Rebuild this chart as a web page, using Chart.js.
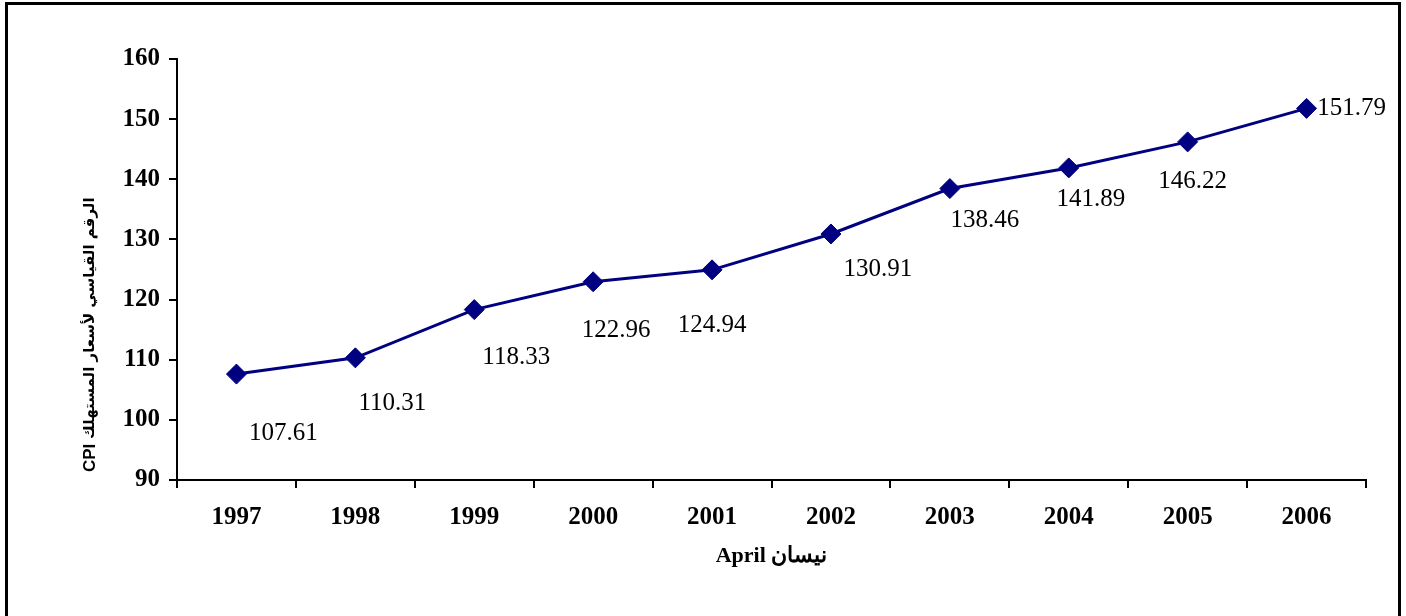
<!DOCTYPE html>
<html lang="ar">
<head>
    <meta charset="UTF-8">
    <title>CPI April 1997-2006</title>
    <script src="https://cdn.jsdelivr.net/npm/chart.js"></script>
    <style>
        html, body {
            margin: 0;
            padding: 0;
            background: #fff;
            overflow: hidden;
        }
        .wrap {
            position: relative;
            width: 1406px;
            height: 616px;
        }
        .frame {
            position: absolute;
            left: 5px;
            top: 2px;
            width: 1396px;
            height: 700px;
            border: 3px solid #000;
            box-sizing: border-box;
            pointer-events: none;
        }
    </style>
</head>
<body>
    <div class="wrap">
        <canvas id="cpiChart" width="1406" height="616"></canvas>
        <div class="frame"></div>
    </div>

    <script>
        const years = ['1997', '1998', '1999', '2000', '2001', '2002', '2003', '2004', '2005', '2006'];
        const cpiValues = [107.61, 110.31, 118.33, 122.96, 124.94, 130.91, 138.46, 141.89, 146.22, 151.79];
        const yTitleLatin = 'CPI';
        const yTitleArabic = 'الرقم القياسي لأسعار المستهلك';
        const xTitle = 'April نيسان';

        // where each value label sits relative to its point (px)
        const labelOffsets = [[47, 59], [37, 46], [42, 48], [23, 49], [0, 56],
                              [47, 35], [35, 32], [22, 32], [5, 40], [45, 0]];

        const valueLabels = {
            id: 'valueLabels',
            afterDatasetsDraw(chart) {
                const ctx = chart.ctx;
                const pts = chart.getDatasetMeta(0).data;
                ctx.save();
                ctx.font = '25px "Liberation Serif", serif';
                ctx.fillStyle = '#000';
                ctx.textAlign = 'center';
                ctx.textBaseline = 'middle';
                pts.forEach((pt, i) => {
                    ctx.fillText(cpiValues[i].toFixed(2), pt.x + labelOffsets[i][0], pt.y + labelOffsets[i][1]);
                });
                ctx.restore();
            }
        };

        // vertical axis title: latin part and arabic part use different fonts
        const sideTitle = {
            id: 'sideTitle',
            afterDraw(chart) {
                const ctx = chart.ctx;
                ctx.save();
                ctx.translate(90, 472);
                ctx.rotate(-Math.PI / 2);
                ctx.fillStyle = '#000';
                ctx.textAlign = 'left';
                ctx.textBaseline = 'middle';
                ctx.font = 'bold 17px "Liberation Sans", sans-serif';
                ctx.fillText(yTitleLatin, 0, 0);
                const w = ctx.measureText(yTitleLatin + ' ').width;
                ctx.font = 'bold 15px "DejaVu Sans", sans-serif';
                ctx.fillText(yTitleArabic, w, 0);
                ctx.restore();
            }
        };

        const ctx = document.getElementById('cpiChart').getContext('2d');
        new Chart(ctx, {
            type: 'line',
            data: {
                labels: years,
                datasets: [{
                    data: cpiValues,
                    borderColor: '#000080',
                    backgroundColor: '#000080',
                    borderWidth: 3,
                    pointStyle: 'rectRot',
                    pointRadius: 10,
                    pointBorderWidth: 1,
                    tension: 0
                }]
            },
            options: {
                responsive: false,
                animation: false,
                layout: {
                    padding: { left: 10, top: 59, right: 40, bottom: 46 }
                },
                plugins: {
                    legend: { display: false },
                    tooltip: { enabled: false }
                },
                scales: {
                    x: {
                        offset: true,
                        grid: {
                            offset: true,
                            drawOnChartArea: false,
                            color: '#000',
                            lineWidth: 2,
                            tickLength: 8
                        },
                        border: { color: '#000', width: 2 },
                        ticks: {
                            color: '#000',
                            padding: 15,
                            maxRotation: 0,
                            font: { family: '"Liberation Serif", serif', size: 25, weight: 'bold' }
                        },
                        title: {
                            display: true,
                            text: xTitle,
                            color: '#000',
                            padding: { top: 10, bottom: 0 },
                            font: { family: '"Liberation Serif", "DejaVu Serif", serif', size: 22, weight: 'bold' }
                        },
                        afterFit(scale) { scale.height = 90; }
                    },
                    y: {
                        min: 90,
                        max: 160,
                        grid: {
                            drawOnChartArea: false,
                            color: '#000',
                            lineWidth: 2,
                            tickLength: 8
                        },
                        border: { color: '#000', width: 2 },
                        ticks: {
                            stepSize: 10,
                            color: '#000',
                            padding: 9,
                            font: { family: '"Liberation Serif", serif', size: 25, weight: 'bold' }
                        },
                        afterFit(scale) { scale.width = 167; }
                    }
                }
            },
            plugins: [valueLabels, sideTitle]
        });
    </script>
</body>
</html>
